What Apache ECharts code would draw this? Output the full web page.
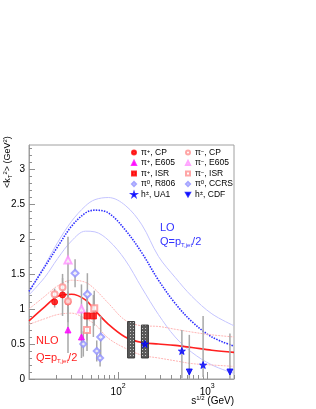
<!DOCTYPE html>
<html><head><meta charset="utf-8">
<script src="https://cdn.jsdelivr.net/npm/echarts@6/dist/echarts.min.js"></script>
<style>html,body{margin:0;padding:0;background:#fff}#c{width:316px;height:409px}</style>
</head><body><div id="c"></div>
<script>
// ---------------- data ----------------
const curveS     = [10, 15, 21, 30, 43, 55, 78, 120, 185, 284, 437, 673, 1130, 2000];
const loCentral  = [1.25, 1.60, 1.89, 2.18, 2.37, 2.41, 2.37, 2.13, 1.80, 1.41, 1.08, 0.82, 0.60, 0.47];
const loUpper    = [1.25, 1.62, 1.95, 2.25, 2.47, 2.56, 2.59, 2.48, 2.20, 1.75, 1.45, 1.18, 0.93, 0.76];
const loLower    = [1.20, 1.45, 1.72, 1.97, 2.11, 2.10, 1.98, 1.70, 1.30, 0.92, 0.60, 0.38, 0.20, 0.08];
const nloCentral = [0.83, 1.03, 1.18, 1.21, 1.13, 0.98, 0.78, 0.60, 0.52, 0.50, 0.48, 0.45, 0.41, 0.38];
const nloUpper   = [1.00, 1.18, 1.33, 1.41, 1.38, 1.28, 1.08, 0.84, 0.76, 0.75, 0.71, 0.67, 0.63, 0.60];
const nloLower   = [0.78, 0.86, 0.92, 0.94, 0.86, 0.78, 0.58, 0.44, 0.34, 0.30, 0.26, 0.22, 0.20, 0.18];

const cpPlusS   = [19.4, 23.8, 27.4], cpPlusK   = [1.10, 1.20, 1.10], cpPlusErr   = [0.08, 0.30, 0.15];
const cpMinusS  = [19.4, 23.8, 27.4], cpMinusK  = [1.21, 1.31, 1.11], cpMinusErr  = [0.08, 0.13, 0.30];
const e605PlusS = [27.4, 38.8],       e605PlusK = [0.70, 0.60],       e605PlusErr = [0.33, 0.30];
const e605MinusS= [27.4, 38.8],       e605MinusK= [1.70, 1.00],       e605MinusErr= [0.33, 0.35];
const isrPlusS  = [44.8, 52.8],       isrPlusK  = [0.90, 0.90],       isrPlusErr  = [0.35, 0.30];
const isrMinusS = [44.8, 54.0],       isrMinusK = [0.70, 1.01],       isrMinusErr = [0.30, 0.25];
const r806S     = [32.9, 45.2, 63.8], r806K     = [1.51, 1.21, 0.60], r806Err     = [0.20, 0.30, 0.30];
const ccrsS     = [40.7, 57.6, 62.8], ccrsK     = [0.50, 0.40, 0.30], ccrsErr     = [0.18, 0.15, 0.12];
const ua1S      = [200, 520, 900],    ua1K      = [0.50, 0.40, 0.20];
const ua1ErrLo  = [0.05, 0.39, 0.17], ua1ErrHi  = [0.05, 0.30, 0.70];
const cdfS      = [630, 1800],        cdfK      = [0.10, 0.10];
const cdfErrLo  = [0.10, 0.10],       cdfErrHi  = [0.53, 0.55];
const boxS      = [140, 200], boxLo = [0.30, 0.30], boxHi = [0.82, 0.77];

const xMajorTicks = [100, 1000];
const xMinorTicks = [20, 30, 40, 50, 60, 70, 80, 90, 200, 300, 400, 500, 600, 700, 800, 900, 2000];
const yTickLabels = [0, 0.5, 1, 1.5, 2, 2.5, 3];
const yMinorTicks = [0.1,0.2,0.3,0.4,0.6,0.7,0.8,0.9,1.1,1.2,1.3,1.4,1.6,1.7,1.8,1.9,2.1,2.2,2.3,2.4,2.6,2.7,2.8,2.9,3.1,3.2,3.3];

// ---------------- build ----------------
const L = v => Math.log10(v);
const pts = (S, K) => S.map((s, i) => [L(s), K[i]]);
const errs = (S, K, lo, hi) => S.map((s, i) => [L(s), K[i] - lo[i], K[i] + (hi ? hi[i] : lo[i])]);
const FONT = '"Liberation Sans", Arial, sans-serif';

const errData = [].concat(
  errs(cpPlusS, cpPlusK, cpPlusErr), errs(cpMinusS, cpMinusK, cpMinusErr),
  errs(e605PlusS, e605PlusK, e605PlusErr), errs(e605MinusS, e605MinusK, e605MinusErr),
  errs(isrPlusS, isrPlusK, isrPlusErr), errs(isrMinusS, isrMinusK, isrMinusErr),
  errs(r806S, r806K, r806Err), errs(ccrsS, ccrsK, ccrsErr),
  errs(ua1S, ua1K, ua1ErrLo, ua1ErrHi), errs(cdfS, cdfK, cdfErrLo, cdfErrHi)
);
const boxData = boxS.map((s, i) => [L(s), boxLo[i], boxHi[i]]);

const pc = document.createElement('canvas'); pc.width = 3; pc.height = 3;
const pctx = pc.getContext('2d');
pctx.fillStyle = '#5a5a5a'; pctx.fillRect(0, 0, 3, 3);
pctx.fillStyle = '#c8c8c8'; pctx.fillRect(1, 1, 1, 1);

const STAR = 'path://M5,0 L6.2,3.6 L10,3.6 L6.9,5.9 L8.1,9.5 L5,7.3 L1.9,9.5 L3.1,5.9 L0,3.6 L3.8,3.6Z';
const DOWNTRI = 'path://M0,0 L10,0 L5,9Z';

function curve(name, data, color, width, type) {
  return { name, type: 'line', data: pts(curveS, data), smooth: 0.35, symbol: 'none', silent: true,
    lineStyle: { color, width, type }, z: 2 };
}
function sc(name, S, K, symbol, color, size) {
  return { name, type: 'scatter', data: pts(S, K), symbol, symbolSize: size,
    itemStyle: { color, borderColor: color, borderWidth: 1 }, z: 5 };
}

const legendNames = {
  a: 'π{s|+}, CP', b: 'π{s|+}, E605', c: 'π{s|+}, ISR', d: 'π{s|0}, R806', e: 'h{s|±}, UA1',
  f: 'π{s|−}, CP', g: 'π{s|−}, E605', h: 'π{s|−}, ISR', i: 'π{s|0}, CCRS', j: 'h{s|±}, CDF'
};
const legRich = {
  s: { fontSize: 6, lineHeight: 9, verticalAlign: 'top', padding: [0, 0, 3, 0], fontFamily: FONT, color: '#000' }
};
function legend(left, data) {
  return { left, top: 148, orient: 'vertical', padding: 0, itemGap: 1.5, itemWidth: 4, itemHeight: 4,
    data, selectedMode: false, formatter: n => legendNames[n],
    textStyle: { fontSize: 8.5, lineHeight: 9, fontFamily: FONT, color: '#000', rich: legRich } };
}

const chart = echarts.init(document.getElementById('c'), null, { renderer: 'canvas' });
const axisCommon = { type: 'value', axisLine: { show: true, lineStyle: { color: '#a0a0a0' } }, splitLine: { show: false } };
const subRich = {
  m: { fontSize: 11, lineHeight: 13, verticalAlign: 'top', fontFamily: FONT },
  b: { fontSize: 6, lineHeight: 6, verticalAlign: 'bottom', padding: [0, 0, 1, 0], fontFamily: FONT }
};

chart.setOption({
  animation: false,
  grid: { left: 29, right: 82, top: 145, bottom: 30, show: true, borderColor: '#a0a0a0', borderWidth: 1 },
  xAxis: [
    Object.assign({}, axisCommon, { min: 1, max: L(2000),
      axisTick: { show: true, inside: true, length: 7, customValues: xMajorTicks.map(L), lineStyle: { color: '#909090' } },
      axisLabel: { show: true, customValues: xMajorTicks.map(L), margin: 4,
        formatter: v => '{b|10}{s|' + Math.round(v) + '}',
        rich: { b: { fontSize: 10, lineHeight: 14, verticalAlign: 'bottom', fontFamily: FONT, color: '#000' },
                s: { fontSize: 7, lineHeight: 8, verticalAlign: 'top', fontFamily: FONT, color: '#000' } } } }),
    Object.assign({}, axisCommon, { min: 1, max: L(2000), position: 'bottom', axisLine: { show: false },
      axisTick: { show: true, inside: true, length: 4, customValues: xMinorTicks.map(L), lineStyle: { color: '#909090' } },
      axisLabel: { show: false } })
  ],
  yAxis: [
    Object.assign({}, axisCommon, { min: 0, max: 3.34,
      axisTick: { show: true, inside: true, length: 6, customValues: yTickLabels, lineStyle: { color: '#909090' } },
      axisLabel: { show: true, customValues: yTickLabels, margin: 4, fontSize: 10, fontFamily: FONT, color: '#000' } }),
    Object.assign({}, axisCommon, { min: 0, max: 3.34, position: 'left', axisLine: { show: false },
      axisTick: { show: true, inside: true, length: 3, customValues: yMinorTicks, lineStyle: { color: '#909090' } },
      axisLabel: { show: false } })
  ],
  legend: [ legend(131, ['a', 'b', 'c', 'd', 'e']), legend(185, ['f', 'g', 'h', 'i', 'j']) ],
  series: [
    curve('loU', loUpper, '#c4c4ff', 1, 'solid'),
    curve('loL', loLower, '#c4c4ff', 1, 'solid'),
    curve('lo', loCentral, '#3030ff', 1.6, [1.5, 1.2]),
    curve('nloU', nloUpper, '#ffb4b4', 1, [2, 1]),
    curve('nloL', nloLower, '#ffb4b4', 1, [2, 1]),
    curve('nlo', nloCentral, '#ff2020', 1.6, 'solid'),
    { name: 'err', type: 'custom', data: errData, z: 3, silent: true,
      renderItem: (p, api) => {
        const a = api.coord([api.value(0), api.value(1)]);
        const b = api.coord([api.value(0), api.value(2)]);
        return { type: 'line', shape: { x1: a[0], y1: a[1], x2: b[0], y2: b[1] },
          style: { stroke: '#a8a8a8', lineWidth: 1.5 } };
      } },
    { name: 'box', type: 'custom', data: boxData, z: 4, silent: true,
      renderItem: (p, api) => {
        const a = api.coord([api.value(0), api.value(2)]);
        const b = api.coord([api.value(0), api.value(1)]);
        return { type: 'rect', shape: { x: a[0] - 3.5, y: a[1], width: 7, height: b[1] - a[1] },
          style: { fill: { image: pc, repeat: 'repeat' }, stroke: '#3a3a3a', lineWidth: 1 } };
      } },
    sc('a', cpPlusS, cpPlusK, 'circle', '#ff0000', 6),
    sc('f', cpMinusS, cpMinusK, 'emptyCircle', '#ff9090', 6),
    sc('b', e605PlusS, e605PlusK, 'triangle', '#ff00ff', 6),
    sc('g', e605MinusS, e605MinusK, 'emptyTriangle', '#ff90ff', 7),
    sc('c', isrPlusS, isrPlusK, 'rect', '#ff0000', 6),
    sc('h', isrMinusS, isrMinusK, 'emptyRect', '#ff9090', 6),
    sc('d', r806S, r806K, 'emptyDiamond', '#9090ff', 7),
    sc('i', ccrsS, ccrsK, 'emptyDiamond', '#9090ff', 6),
    sc('e', ua1S, ua1K, STAR, '#0000ff', 7),
    sc('j', cdfS, cdfK, DOWNTRI, '#0000ff', 6)
  ],
  graphic: [
    { type: 'text', left: 160, top: 222, style: { text: 'LO', fill: '#3333ff', font: '11px ' + FONT } },
    { type: 'text', left: 160, top: 236, style: { text: '{m|Q=p}{b|T,jet}{m|/2}', fill: '#3333ff', rich: subRich } },
    { type: 'text', left: 36, top: 335, style: { text: 'NLO', fill: '#ff2020', font: '11px ' + FONT } },
    { type: 'text', left: 36, top: 352, style: { text: '{m|Q=p}{b|T,jet}{m|/2}', fill: '#ff2020', rich: subRich } },
    { type: 'text', right: 316 - 234, top: 395, style: { text: 's{p|1/2} (GeV)', fill: '#000', font: '10px ' + FONT,
        rich: { p: { fontSize: 6, verticalAlign: 'top', lineHeight: 12, fontFamily: FONT } } } },
    { type: 'text', left: 2, bottom: 221, rotation: Math.PI / 2,
      style: { text: '<k{b|T}{p|2}> (GeV{p|2})', fill: '#000', font: '9px ' + FONT,
        rich: { b: { fontSize: 6, verticalAlign: 'bottom', lineHeight: 11, fontFamily: FONT },
                p: { fontSize: 6, verticalAlign: 'top', lineHeight: 11, fontFamily: FONT } } } }
  ]
});
</script></body></html>
